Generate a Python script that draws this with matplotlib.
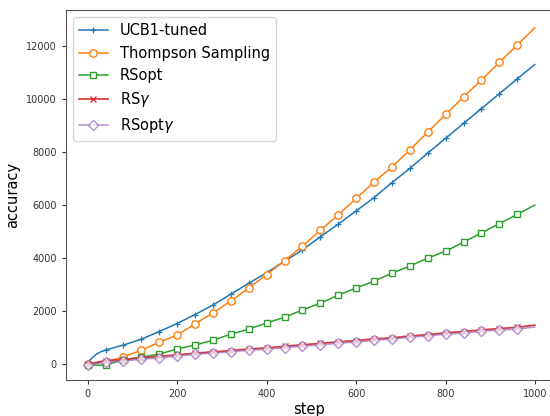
import numpy as np
import matplotlib
matplotlib.use("Agg")
import matplotlib.pyplot as plt

steps = [0, 40, 80, 120, 160, 200, 240, 280, 320, 360, 400, 440, 480, 520,
         560, 600, 640, 680, 720, 760, 800, 840, 880, 920, 960, 999]

ucb_early_steps = [0, 5, 10, 20, 30]
ucb_early = [0, 150, 240, 380, 470]
ucb = [0, 530, 720, 940, 1230, 1530, 1870, 2230, 2640, 3050, 3450, 3880, 4310,
       4800, 5280, 5780, 6280, 6850, 7380, 7960, 8520, 9080, 9640, 10200, 10760, 11300]
thompson = [0, 90, 270, 530, 820, 1100, 1520, 1930, 2380, 2870, 3380, 3900, 4450,
            5050, 5630, 6250, 6870, 7440, 8080, 8750, 9420, 10080, 10720, 11380, 12040, 12680]
rsopt = [-40, -40, 170, 260, 380, 570, 720, 900, 1130, 1320, 1550, 1770, 2040,
         2300, 2600, 2870, 3130, 3430, 3700, 4000, 4260, 4600, 4950, 5300, 5650, 6000]
rsg = [0, 130, 170, 240, 290, 350, 410, 460, 510, 570, 610, 670, 730,
       780, 840, 890, 950, 990, 1060, 1110, 1180, 1230, 1290, 1340, 1390, 1470]
rsoptg = [-40, 80, 110, 190, 230, 300, 370, 420, 460, 530, 560, 620, 680,
          720, 790, 830, 900, 940, 1020, 1060, 1130, 1170, 1240, 1280, 1320, 1400]

labels = ["UCB1-tuned", "Thompson Sampling", "RSopt", r"RS$\gamma$", r"RSopt$\gamma$"]

fig = plt.figure(figsize=(5.5, 4.16), dpi=100)
ax = fig.add_axes([0.1195, 0.0865, 0.8845, 0.889])

def mark_idx(xs):
    return [i for i, s in enumerate(xs) if s % 40 == 0]

ms = 4.8
lw = 1.1
ucb_x = ucb_early_steps + steps[1:]
ucb_y = ucb_early + ucb[1:]
ax.plot(ucb_x, ucb_y, color="C0", marker="+", ms=ms, mew=0.9, lw=lw,
        markevery=mark_idx(ucb_x), label=labels[0])
ax.plot(steps, thompson, color="C1", marker="o", ms=ms + 0.5, mfc="white", mew=1.0, lw=lw,
        markevery=mark_idx(steps), label=labels[1])
ax.plot(steps, rsopt, color="C2", marker="s", ms=ms, mfc="white", mew=1.0, lw=lw,
        markevery=mark_idx(steps), label=labels[2])
ax.plot(steps, rsg, color="C3", marker="x", ms=ms, mew=1.0, lw=lw + 0.2, alpha=0.9,
        markevery=mark_idx(steps), label=labels[3])
ax.plot(steps, rsoptg, color="C4", marker="D", ms=ms + 0.8, mfc="white", mew=1.0, lw=lw,
        alpha=0.7, markevery=mark_idx(steps), label=labels[4])

ax.set_xlim(-49, 1038)
ax.set_ylim(-600, 13350)
ax.set_yticks([0, 2000, 4000, 6000, 8000, 10000, 12000])
ax.set_xticks([0, 200, 400, 600, 800, 1000])
ax.tick_params(labelsize=7, colors="#333333", length=3)
for sp in ax.spines.values():
    sp.set_color("#555555")
ax.set_xlabel("step", fontsize=10.5, labelpad=2)
ax.set_ylabel("accuracy", fontsize=10.5)
ax.legend(loc="upper left", fontsize=10.5)

fig.savefig("out.png", dpi=100)
